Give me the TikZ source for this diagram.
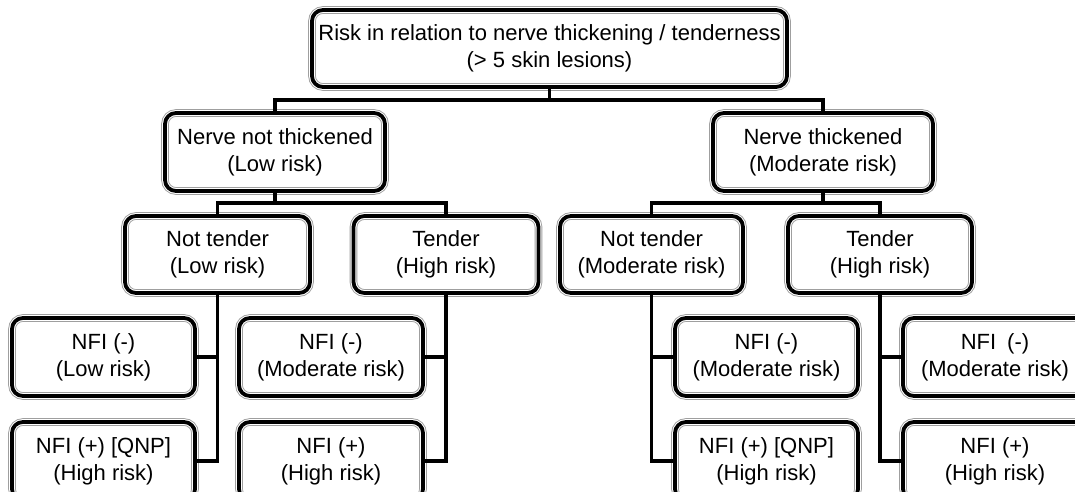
\documentclass[tikz,border=0pt]{standalone}
\usepackage{fontspec}
\setmainfont{Liberation Sans}
\usetikzlibrary{calc, shapes}
\newcommand{\myfontrisk}{\fontsize{22}{27}\selectfont}

\begin{document}
\begin{tikzpicture}[x=1pt, y=-1pt,
	riskbox/.style={rectangle, rounded corners=11pt, align=center, inner sep=0pt,
		font=\myfontrisk, draw=black, line width=3.8pt,
		preaction={draw=gray!75, line width=7.6pt},
		preaction={draw=white, line width=5.8pt}},
	link/.style={draw=black, line width=3.6pt}]
				%Frame of the picture
				\useasboundingbox (0,0) rectangle (1075,492);
				%Level 0
				\coordinate (center0) at (549.5,48.5);
				\node [riskbox, minimum width=475pt, minimum height=77pt] (root) at (center0) {Risk in relation to nerve thickening / tenderness\\(> 5 skin lesions)};
				%Level 1
				\coordinate (center10) at (275,152);
				\coordinate (center11) at (823,152);
				\node [riskbox, minimum width=220pt, minimum height=78pt] (nnt) at (center10) {Nerve not thickened\\(Low risk)};
				\node [riskbox, minimum width=220pt, minimum height=78pt] (nt) at (center11) {Nerve thickened\\(Moderate risk)};
				%Level 2
				\coordinate (center20) at (217.5,254.5);
				\coordinate (center21) at (446,254.5);
				\coordinate (center22) at (651.5,254.5);
				\coordinate (center23) at (880,254.5);
				\node [riskbox, minimum width=185pt, minimum height=77pt] (nntnot) at (center20) {Not tender\\(Low risk)};
				\node [riskbox, minimum width=185pt, minimum height=77pt] (nntten) at (center21) {Tender\\(High risk)};
				\node [riskbox, minimum width=183pt, minimum height=77pt] (ntnot) at (center22) {Not tender\\(Moderate risk)};
				\node [riskbox, minimum width=184pt, minimum height=77pt] (ntten) at (center23) {Tender\\(High risk)};
				%Level 3
				\coordinate (center30) at (103.5,357);
				\coordinate (center31) at (103.5,461);
				\coordinate (center32) at (331,357);
				\coordinate (center33) at (331,461);
				\coordinate (center34) at (766.5,357);
				\coordinate (center35) at (766.5,461);
				\coordinate (center36) at (995,357);
				\coordinate (center37) at (995,461);
				\node [riskbox, minimum width=183pt, minimum height=78pt] (nfi30) at (center30) {NFI (-)\\(Low risk)};
				\node [riskbox, minimum width=183pt, minimum height=78pt] (nfi31) at (center31) {NFI (+) [QNP]\\(High risk)};
				\node [riskbox, minimum width=184pt, minimum height=78pt] (nfi32) at (center32) {NFI (-)\\(Moderate risk)};
				\node [riskbox, minimum width=184pt, minimum height=78pt] (nfi33) at (center33) {NFI (+)\\(High risk)};
				\node [riskbox, minimum width=183pt, minimum height=78pt] (nfi34) at (center34) {NFI (-)\\(Moderate risk)};
				\node [riskbox, minimum width=183pt, minimum height=78pt] (nfi35) at (center35) {NFI (+) [QNP]\\(High risk)};
				\node [riskbox, minimum width=184pt, minimum height=78pt] (nfi36) at (center36) {NFI\enspace(-)\\(Moderate risk)};
				\node [riskbox, minimum width=184pt, minimum height=78pt] (nfi37) at (center37) {NFI (+)\\(High risk)};
				%Connectors level 0 to level 1
				\coordinate (bar0) at (549.5,100);
				\draw [link] (root.south) -- (bar0);
				\draw [link] (nnt.north) |- (bar0) -| (nt.north);
				%Connectors level 1 to level 2
				\coordinate (bar10) at (275,203);
				\coordinate (bar11) at (823,203);
				\draw [link] (nnt.south) -- (bar10);
				\draw [link] (nntnot.north) |- (bar10) -| (nntten.north);
				\draw [link] (nt.south) -- (bar11);
				\draw [link] (ntnot.north) |- (bar11) -| (ntten.north);
				%Connectors level 2 to level 3
				\draw [link] (nntnot.south) |- (nfi30.east);
				\draw [link] (nntnot.south) |- (nfi31.east);
				\draw [link] (nntten.south) |- (nfi32.east);
				\draw [link] (nntten.south) |- (nfi33.east);
				\draw [link] (ntnot.south) |- (nfi34.west);
				\draw [link] (ntnot.south) |- (nfi35.west);
				\draw [link] (ntten.south) |- (nfi36.west);
				\draw [link] (ntten.south) |- (nfi37.west);
				\end{tikzpicture}
\end{document}
